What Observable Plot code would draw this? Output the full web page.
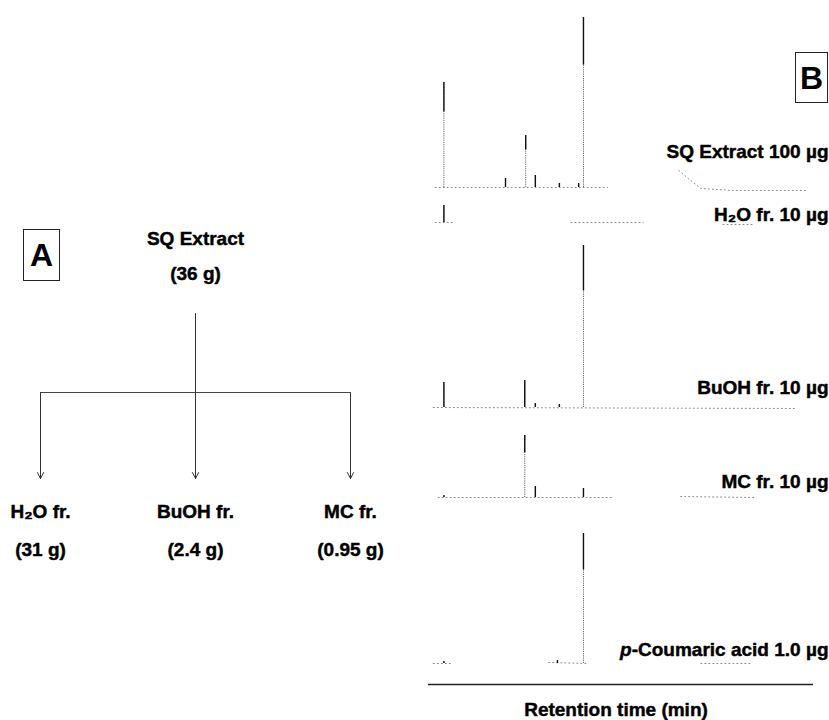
<!DOCTYPE html>
<html><head><meta charset="utf-8">
<script src="https://cdn.jsdelivr.net/npm/d3@7"></script>
<script src="https://cdn.jsdelivr.net/npm/@observablehq/plot@0.6"></script>
<style>
body{margin:0;background:#fff;}
#fig{position:relative;width:829px;height:720px;overflow:hidden;font-family:"Liberation Sans",Arial,sans-serif;background:#fff;}
#panelA{position:absolute;left:0;top:0;}
#panelB{position:absolute;left:410px;top:0;}
.tag{position:absolute;box-sizing:border-box;border:1.3px solid #222;font-weight:bold;font-size:32px;display:flex;align-items:center;justify-content:center;line-height:1;color:#000;}
</style></head><body>
<div id="fig">
<div id="panelA"></div><div id="panelB"></div>
<div class="tag" style="left:23px;top:229px;width:37px;height:52px">A</div>
<div class="tag" style="left:795px;top:52px;width:33px;height:51px">B</div>
</div>
<script>
// ---------- Panel A: fractionation scheme ----------
const extractName = "SQ Extract";
const extractMass = "(36 g)";
const fractions = ["H₂O fr.", "BuOH fr.", "MC fr."];
const fractionMasses = ["(31 g)", "(2.4 g)", "(0.95 g)"];

// ---------- Panel B: HPLC chromatograms (retention time, peak height) ----------
const samples = ["SQ Extract 100 µg", "H₂O fr. 10 µg", "BuOH fr. 10 µg", "MC fr. 10 µg", "p-Coumaric acid 1.0 µg"];
const peaksSQ   = [[1.6,105],[8.0,9],[10.1,52],[11.1,12],[13.6,4],[15.6,4],[16.1,170]];
const peaksH2O  = [[1.6,17]];
const peaksBuOH = [[1.6,25],[10.0,27],[11.1,4],[13.6,3],[16.1,162]];
const peaksMC   = [[1.6,2],[10.0,62],[11.1,11],[16.1,9]];
const peaksPCA  = [[1.6,2],[13.4,3],[16.1,130]];
const baseSQ    = [[0.7,0],[18.6,0],null,[26.0,17],[27.0,9],[28.3,-1],[31.7,-3],[39.2,-3]];
const baseH2O   = [[0.7,0],[2.5,0],null,[14.8,0],[22.3,0],null,[30.6,-2],[33.8,-2]];
const baseBuOH  = [[0.5,0],[38.3,-1]];
const baseMC    = [[1.0,0],[19.0,0],null,[26.2,1],[33.8,0]];
const basePCA   = [[0.5,0],[2.5,0],null,[12.5,1],[16.5,0],null,[28.3,0],[33.5,0]];
const axisLabel = "Retention time (min)";

const font = "Liberation Sans, Arial, Helvetica, sans-serif";
const txt = {fontFamily: font, fontWeight: "bold", fontSize: 19, fill: "#000",
  stroke: "#000", strokeWidth: 0.45, paintOrder: "fill"};

// Layout for panel A (vertical levels)
const rowsA = {root: 238, rootMass: 273, stemTop: 313, bar: 392, tip: 478, frac: 511, fracMass: 549};
const colsA = fractions.map((f, i) => ({name: f, mass: fractionMasses[i], col: i,
  start: i === Math.floor(fractions.length / 2) ? rowsA.stemTop : rowsA.bar}));
const centerCol = (fractions.length - 1) / 2;

const plotA = Plot.plot({
  width: 410, height: 720,
  marginLeft: 40, marginRight: 60, marginTop: 0, marginBottom: 0,
  x: {domain: [0, fractions.length - 1], axis: null},
  y: {domain: [0, 720], reverse: true, axis: null},
  style: {background: "transparent", fontFamily: font},
  marks: [
    Plot.ruleY([rowsA.bar], {x1: 0, x2: fractions.length - 1, stroke: "#444", strokeWidth: 1}),
    Plot.arrow(colsA, {x1: "col", y1: "start", x2: "col", y2: rowsA.tip,
      headLength: 10, headAngle: 55, stroke: "#333", strokeWidth: 1}),
    Plot.text([extractName], {x: centerCol, y: rowsA.root, ...txt}),
    Plot.text([extractMass], {x: centerCol, y: rowsA.rootMass, ...txt}),
    Plot.text(colsA, {x: "col", y: rowsA.frac, text: "name", ...txt}),
    Plot.text(colsA, {x: "col", y: rowsA.fracMass, text: "mass", ...txt})
  ]
});
document.getElementById("panelA").append(plotA);

// Layout for panel B: baseline offset and label position of each trace
const traceOffset = [497, 462, 277, 187, 21];
const labelY = [527, 464, 291, 197, 29];
const peakLists = [peaksSQ, peaksH2O, peaksBuOH, peaksMC, peaksPCA];
const baseLists = [baseSQ, baseH2O, baseBuOH, baseMC, basePCA];

const peaks = peakLists.flatMap((list, k) => list.map(([t, h]) => ({k, t, h})));
const base = baseLists.flatMap((list, k) => list.map(p => p == null
  ? {k, t: NaN, v: NaN} : {k, t: p[0], v: p[1]}));
const labels = samples.map((s, k) => ({s, k}));

const plotB = Plot.plot({
  width: 419, height: 720,
  marginLeft: 18, marginRight: 16, marginTop: 0, marginBottom: 36,
  x: {domain: [0, 40], axis: null},
  y: {domain: [0, 684], axis: null},
  style: {background: "transparent", fontFamily: font},
  marks: [
    Plot.line(base, {x: "t", y: d => traceOffset[d.k] + d.v, z: "k",
      stroke: "#888", strokeWidth: 1, strokeDasharray: "1 3"}),
    Plot.ruleX(peaks, {x: "t", y1: d => traceOffset[d.k], y2: d => traceOffset[d.k] + d.h,
      stroke: "#666", strokeWidth: 1, strokeDasharray: "1.2 1"}),
    Plot.ruleX(peaks, {x: "t", y1: d => traceOffset[d.k] + (d.h > 30 ? d.h * 0.72 : 0),
      y2: d => traceOffset[d.k] + d.h, stroke: "#111", strokeWidth: 1.4}),
    Plot.ruleY([0], {stroke: "#222", strokeWidth: 1.4}),
    Plot.text(labels, {text: "s", frameAnchor: "right", y: d => labelY[d.k],
      textAnchor: "end", lineAnchor: "bottom", dx: 15, ...txt}),
    Plot.text([axisLabel], {frameAnchor: "bottom", lineAnchor: "bottom", dy: 31, dx: -5, ...txt})
  ]
});
// italic "p" of p-Coumaric acid
for (const t of plotB.querySelectorAll("text")) {
  if (t.textContent.startsWith("p-")) {
    const rest = t.textContent.slice(1);
    t.textContent = "";
    const ns = "http://www.w3.org/2000/svg";
    const it = document.createElementNS(ns, "tspan");
    it.setAttribute("font-style", "italic");
    it.textContent = "p";
    t.append(it, document.createTextNode(rest));
  }
}
document.getElementById("panelB").append(plotB);
</script>
</body></html>
